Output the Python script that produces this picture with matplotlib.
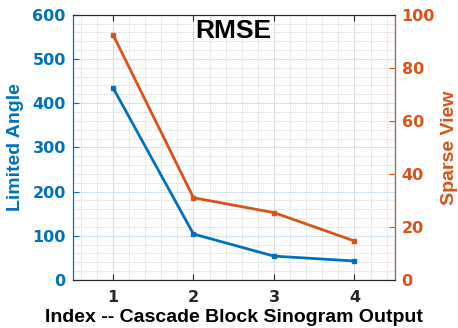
import matplotlib
matplotlib.use("Agg")
import matplotlib.pyplot as plt
from matplotlib.ticker import MultipleLocator

x_index = [1, 2, 3, 4]
limited_angle = [435, 104, 54, 43]
sparse_view = [92.5, 31.0, 25.4, 14.7]
x_ticks = [1, 2, 3, 4]
left_ticks = [0, 100, 200, 300, 400, 500, 600]
right_ticks = [0, 20, 40, 60, 80, 100]

BLUE = "#0072BD"
ORANGE = "#D95319"
DARK = "#262626"

fig = plt.figure(figsize=(4.58, 3.28), dpi=100)
ax = fig.add_axes([72.7/458, 1-280/328, (394.7-72.7)/458, (280-14.7)/328])
ax2 = ax.twinx()

ax.plot(x_index, limited_angle, color=BLUE, lw=2, marker='s', ms=3.5, zorder=3)
ax2.plot(x_index, sparse_view, color=ORANGE, lw=2, marker='s', ms=3.5, zorder=3)

ax.set_xlim(0.5, 4.5)
ax.set_ylim(0, 600)
ax2.set_ylim(0, 100)
ax.set_xticks(x_ticks)
ax.set_yticks(left_ticks)
ax2.set_yticks(right_ticks)
ax.xaxis.set_minor_locator(MultipleLocator(0.2))
ax.yaxis.set_minor_locator(MultipleLocator(20))

ax.grid(False)
ax.grid(which='minor', color='#d0d0d0', lw=0.6, ls=(0, (1.5, 1.5)))
ax.xaxis.grid(True, which='major', color='#dcdcdc', lw=0.8)
ax.yaxis.grid(True, which='major', color='#d4e4f3', lw=0.8)
ax.set_axisbelow(True)

tick_fp = matplotlib.font_manager.FontProperties(family='DejaVu Sans', weight='bold', size=11.5)
for lbl in ax.get_xticklabels() + ax.get_yticklabels() + ax2.get_yticklabels():
    lbl.set_fontproperties(tick_fp)

ax.tick_params(axis='x', which='both', direction='in', top=True, colors=DARK, pad=7)
ax.tick_params(axis='x', which='major', length=4, width=0.8)
ax.tick_params(axis='x', which='minor', length=0)
ax.tick_params(axis='y', which='major', direction='in', colors=BLUE, length=4, width=0.8, pad=5)
ax.tick_params(axis='y', which='minor', length=0)
ax2.tick_params(axis='y', which='major', direction='in', colors=ORANGE, length=4, width=0.8, pad=5)

for s in ['top', 'bottom']:
    ax.spines[s].set_color(DARK)
    ax.spines[s].set_linewidth(0.8)
ax2.spines['left'].set_color(BLUE)
ax2.spines['right'].set_color(ORANGE)
ax2.spines['top'].set_color(DARK)
ax2.spines['bottom'].set_color(DARK)
ax.spines['left'].set_color(BLUE)
for s in ax2.spines.values():
    s.set_linewidth(0.8)

label_font = dict(family='Liberation Sans', weight='bold', size=14)
ax.set_xlabel('Index -- Cascade Block Sinogram Output', color='black', labelpad=3, **label_font)
ax.set_ylabel('Limited Angle', color=BLUE, labelpad=6, **label_font)
ax2.set_ylabel('Sparse View', color=ORANGE, labelpad=4, **label_font)

ax.text(0.5, 0.94, 'RMSE', transform=ax.transAxes, ha='center', va='center',
        family='Liberation Sans', weight='bold', size=19, color='black')

fig.savefig('out.png', dpi=100)
